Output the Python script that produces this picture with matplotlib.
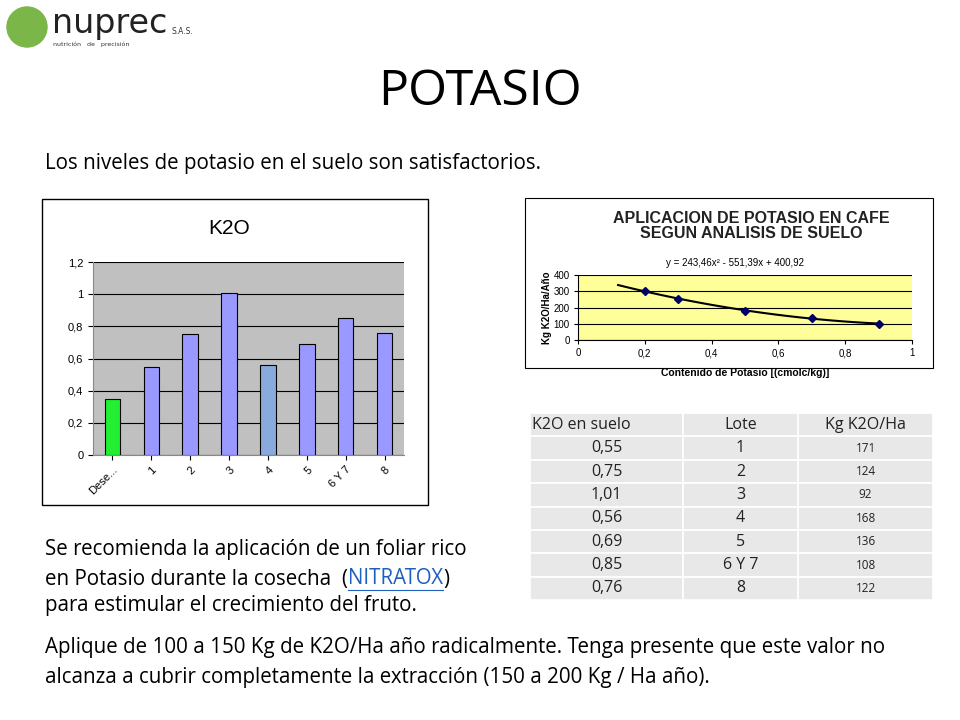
import matplotlib
matplotlib.use("Agg")
import matplotlib.pyplot as plt
import numpy as np
from matplotlib.patches import Rectangle, Ellipse

W, H = 960, 720
bar_cats = ["Dese...", "1", "2", "3", "4", "5", "6 Y 7", "8"]
bar_vals = [0.35, 0.55, 0.75, 1.01, 0.56, 0.69, 0.85, 0.76]
bar_colors = ["#22ee33", "#9999ff", "#9999ff", "#9999ff", "#88aadd", "#9999ff", "#9999ff", "#9999ff"]
curve_x = [0.2, 0.3, 0.5, 0.7, 0.9]
curve_y = [300, 255, 180, 135, 100]
tbl_header = ["K2O en suelo", "Lote", "Kg K2O/Ha"]
tbl_k2o = ["0,55", "0,75", "1,01", "0,56", "0,69", "0,85", "0,76"]
tbl_lote = ["1", "2", "3", "4", "5", "6 Y 7", "8"]
tbl_kg = ["171", "124", "92", "168", "136", "108", "122"]

fig = plt.figure(figsize=(9.6, 7.2), dpi=100)
FONT = "Open Sans"

def fx(x): return x / W
def fy(y): return 1 - y / H
def box(x0, y0, x1, y1):
    return [fx(x0), fy(y1), fx(x1) - fx(x0), fy(y0) - fy(y1)]

# logo
fig.patches.append(Ellipse((fx(27), fy(27)), 40 / W, 40 / H, transform=fig.transFigure, color="#7ab648", zorder=0))
fig.text(fx(52), fy(24), "nuprec", fontsize=24, fontfamily="DejaVu Sans", color="#222", va="center")
fig.text(fx(172), fy(32), "S.A.S.", fontsize=5.5, color="#333", va="center")
fig.text(fx(53), fy(44), "nutrición   de   precisión", fontsize=4.5, color="#333", va="center")

fig.text(0.5, fy(92), "POTASIO", fontsize=36, fontfamily=FONT, ha="center", va="center")
fig.text(fx(45), fy(163), "Los niveles de potasio en el suelo son satisfactorios.", fontsize=14.8, fontfamily=FONT, va="center")

# bar chart frame
fig.patches.append(Rectangle((fx(42), fy(505)), fx(428) - fx(42), fy(199) - fy(505),
                             transform=fig.transFigure, fill=False, ec="black", lw=1))
fig.text(fx(229), fy(229), "K2O", fontsize=15, fontfamily="Liberation Sans", ha="center", va="center")
ax = fig.add_axes(box(93, 262, 404, 455))
ax.set_facecolor("#c0c0c0")
x = np.arange(len(bar_cats))
ax.bar(x, bar_vals, width=0.4, color=bar_colors, edgecolor="black", lw=0.8, zorder=3)
ax.set_ylim(0, 1.2)
ax.set_xlim(-0.5, len(bar_cats) - 0.5)
ax.set_yticks(np.arange(0, 1.21, 0.2))
ax.set_yticklabels(["0", "0,2", "0,4", "0,6", "0,8", "1", "1,2"], fontsize=8, fontfamily="Liberation Sans")
ax.yaxis.grid(True, color="black", lw=0.8)
ax.set_axisbelow(True)
ax.set_xticks(x)
ax.set_xticklabels(bar_cats, rotation=45, ha="right", rotation_mode="anchor", fontsize=8, fontfamily="Liberation Sans")
for s in ["top", "right"]:
    ax.spines[s].set_visible(False)
ax.spines["left"].set_color("#888"); ax.spines["bottom"].set_color("#888")

# right chart
fig.patches.append(Rectangle((fx(525), fy(368)), fx(933) - fx(525), fy(198) - fy(368),
                             transform=fig.transFigure, fill=False, ec="black", lw=0.8))
fig.text(fx(751), fy(226), "APLICACION DE POTASIO EN CAFE\nSEGUN ANALISIS DE SUELO", fontsize=11.5,
         fontfamily="Liberation Sans", fontweight="bold", ha="center", va="center", color="#222", linespacing=1.05)
fig.text(fx(735), fy(263), "y = 243,46x² - 551,39x + 400,92", fontsize=7, fontfamily="Liberation Sans", ha="center", va="center")
ax2 = fig.add_axes(box(578, 275, 912, 340))
ax2.set_facecolor("#ffff99")
coef = np.polyfit(curve_x, curve_y, 2)
xs = np.linspace(0.12, 0.9, 100)
ax2.plot(xs, np.polyval(coef, xs), color="black", lw=1.5, zorder=3)
ax2.plot(curve_x, curve_y, "D", color="#000066", ms=4, zorder=4)
ax2.set_xlim(0, 1); ax2.set_ylim(0, 400)
ax2.set_yticks([0, 100, 200, 300, 400])
ax2.set_yticklabels(["0", "100", "200", "300", "400"], fontsize=7, fontfamily="Liberation Sans")
ax2.set_xticks([0, 0.2, 0.4, 0.6, 0.8, 1])
ax2.set_xticklabels(["0", "0,2", "0,4", "0,6", "0,8", "1"], fontsize=7, fontfamily="Liberation Sans")
ax2.yaxis.grid(True, color="black", lw=0.8)
ax2.set_axisbelow(True)
ax2.tick_params(length=3, pad=3)
for s in ["top", "right"]:
    ax2.spines[s].set_visible(False)
ax2.set_xlabel("Contenido de Potasio [(cmolc/kg)]", fontsize=7.5, fontfamily="Liberation Sans", fontweight="bold", labelpad=7)
ax2.set_ylabel("Kg K2O/Ha/Año", fontsize=7, fontfamily="Liberation Sans", fontweight="bold", labelpad=1)

# table
cols = [530, 683, 798, 933]
top, rh = 413, 23.4
rows = [tbl_header] + [[a, b, c] for a, b, c in zip(tbl_k2o, tbl_lote, tbl_kg)]
for i, r in enumerate(rows):
    y0 = top + i * rh
    for j in range(3):
        fig.patches.append(Rectangle((fx(cols[j]), fy(y0 + rh)), fx(cols[j + 1]) - fx(cols[j]), rh / H,
                                     transform=fig.transFigure, fc="#e8e8e8", ec="white", lw=1.2))
        cx = (cols[j] + cols[j + 1]) / 2
        ha = "center"
        if i == 0 and j == 0:
            cx, ha = cols[0] + 2, "left"
        fs = 11.5 if (i == 0 or j < 2) else 8.5
        fig.text(fx(cx), fy(y0 + rh / 2), r[j], fontsize=fs, fontfamily=FONT, ha=ha, va="center", color="#222")

# bottom text
fs = 14.8
fig.text(fx(45), fy(549), "Se recomienda la aplicación de un foliar rico", fontsize=fs, fontfamily=FONT, va="center")
t1 = fig.text(fx(45), fy(579), "en Potasio durante la cosecha  (", fontsize=fs, fontfamily=FONT, va="center")
fig.canvas.draw()
bb = t1.get_window_extent()
t2 = fig.text(bb.x1 / W, fy(579), "NITRATOX", fontsize=fs, fontfamily=FONT, va="center", color="#1f5fbf")
fig.canvas.draw()
bb2 = t2.get_window_extent()
fig.lines.append(plt.Line2D([bb2.x0 / W, bb2.x1 / W], [fy(590), fy(590)], transform=fig.transFigure, color="#1f5fbf", lw=0.8))
fig.text(bb2.x1 / W, fy(579), ")", fontsize=fs, fontfamily=FONT, va="center")
fig.text(fx(45), fy(606), "para estimular el crecimiento del fruto.", fontsize=fs, fontfamily=FONT, va="center")
fig.text(fx(45), fy(648), "Aplique de 100 a 150 Kg de K2O/Ha año radicalmente. Tenga presente que este valor no", fontsize=fs, fontfamily=FONT, va="center")
fig.text(fx(45), fy(677), "alcanza a cubrir completamente la extracción (150 a 200 Kg / Ha año).", fontsize=fs, fontfamily=FONT, va="center")

fig.savefig("out.png", dpi=100)
